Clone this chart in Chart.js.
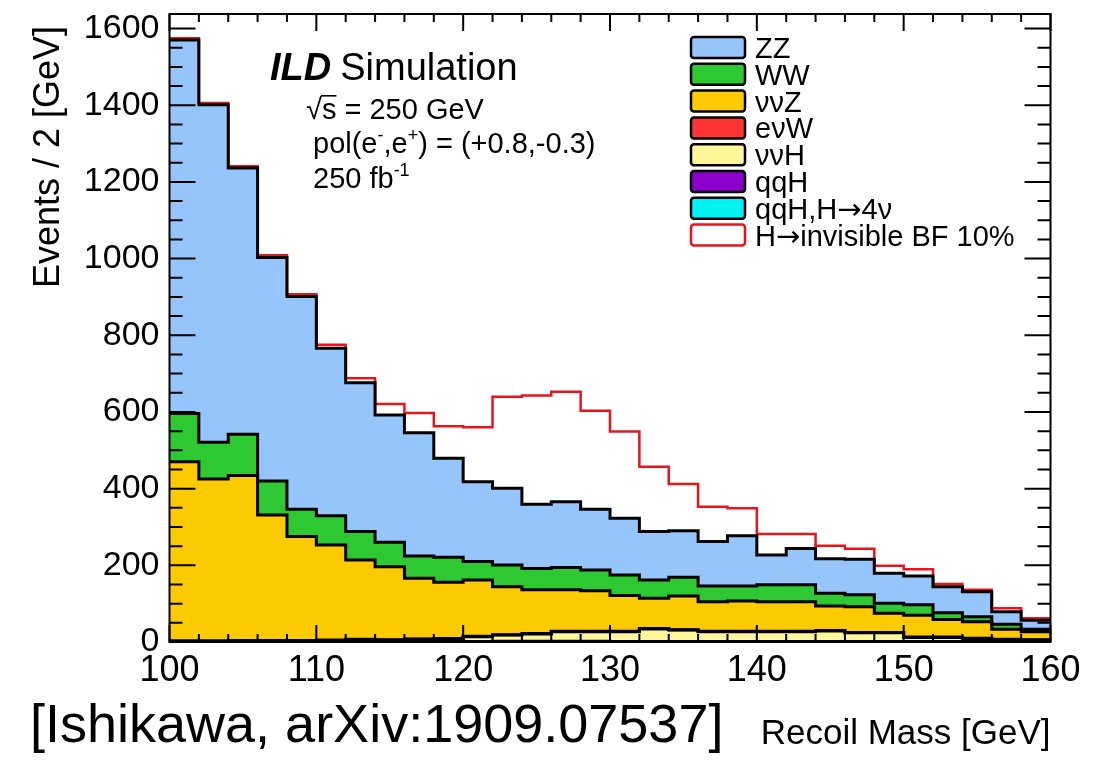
<!DOCTYPE html>
<html>
<head>
<meta charset="utf-8">
<script src="https://cdn.jsdelivr.net/npm/chart.js@4.4.1/dist/chart.umd.min.js"></script>
<style>
  html, body { margin: 0; padding: 0; background: #fff; }
  #wrap { position: relative; width: 1110px; height: 767px; overflow: hidden; }
  #c { position: absolute; left: 0; top: 0; }
  #cite { position: absolute; left: 30px; top: 692px; font: 54px "Liberation Sans", Arial, sans-serif; color: #000; white-space: nowrap; }
</style>
</head>
<body>
<div id="wrap">
  <canvas id="c" width="1110" height="767"></canvas>
  <div id="cite">[Ishikawa, arXiv:1909.07537]</div>
</div>
<script>
// Recoil mass histogram, 2 GeV bins from 100 to 160 GeV
const binEdges = [100,102,104,106,108,110,112,114,116,118,120,122,124,126,128,130,132,134,136,138,140,142,144,146,148,150,152,154,156,158,160];

// Events per bin for each background process
const zz     = [974,880,694,583,555,437,388,332,322,258,208,200,167,172,158,148,126,121,116,131,78,95,90,93,78,75,68,65,33,24];
const ww     = [126,96,108,89,71,76,74,64,58,65,48,57,56,58,54,54,48,49,41,39,44,44,33,31,26,27,17,13,13,6];
const nnZ    = [467,422,430,327,271,248,207,190,158,147,147,125,114,108,106,93,79,88,77,79,77,77,64,67,50,57,46,43,26,21];
const enuW   = [2,2,2,2,1,1,1,1,1,1,1,1,1,1,1,1,1,1,1,1,1,1,1,1,1,1,1,1,1,1];
const nnH    = [1,1,2,2,3,4,6,5,7,7,13,16,19,25,25,26,33,30,26,26,26,26,28,23,23,11,11,8,6,5];
const qqH    = [0,0,0,0,0,0,0,0,0,1,1,1,1,1,1,1,1,1,1,1,1,1,1,1,1,1,1,1,0,0];
const qqH4nu = [0,0,0,0,0,0,0,0,0,0,0,1,1,1,1,0,0,0,0,0,0,0,0,0,0,0,0,0,0,0];
// H -> invisible signal (BF 10%), stacked on top of the total background
const hInv   = [5,5,5,6,6,9,12,29,51,84,142,239,284,287,257,226,169,122,91,72,55,38,34,27,20,18,7,5,9,5];

const yTicks = [0,200,400,600,800,1000,1200,1400,1600];
const xTicks = [100,110,120,130,140,150,160];

const ARROW = '\u2192';
const NU = '\u03bd';

// stacking order, bottom to top
const layers = [
  { label: ['qqH,H', ARROW, '4' + NU], values: qqH4nu, color: '#00f2f2' },
  { label: ['qqH'],                    values: qqH,    color: '#8a00cc' },
  { label: [NU + NU + 'H'],            values: nnH,    color: '#fff799' },
  { label: ['e' + NU + 'W'],           values: enuW,   color: '#ff3333' },
  { label: [NU + NU + 'Z'],            values: nnZ,    color: '#fcca00' },
  { label: ['WW'],                     values: ww,     color: '#2ec832' },
  { label: ['ZZ'],                     values: zz,     color: '#96c5fb' }
];
const signalLabel = ['H', ARROW, 'invisible BF 10%'];

// step outline points at the left bin edges, last value repeated at the upper edge
function stepPoints(vals) {
  return binEdges.map((x, i) => ({ x: x, y: vals[Math.min(i, vals.length - 1)] }));
}

const running = new Array(zz.length).fill(0);
const datasets = layers.map((l, k) => {
  for (let i = 0; i < running.length; i++) running[i] += l.values[i];
  return {
    label: l.label.join(''),
    data: stepPoints(running.slice()),
    stepped: true,
    borderColor: '#000',
    borderWidth: 3,
    backgroundColor: l.color,
    fill: k === 0 ? 'origin' : '-1',
    pointRadius: 0,
    order: 0
  };
});
const withSignal = running.map((v, i) => v + hInv[i]);
datasets.push({
  label: signalLabel.join(''),
  data: stepPoints(withSignal),
  stepped: true,
  borderColor: '#e8141c',
  borderWidth: 2.5,
  backgroundColor: '#fff',
  fill: false,
  pointRadius: 0,
  order: 1
});

const FONT = '"Liberation Sans", Arial, Helvetica, sans-serif';
const ARROW_FONT = '"DejaVu Sans", sans-serif';

// frame and inward ROOT-style tick marks
const framePlugin = {
  id: 'frame',
  afterDatasetsDraw(chart) {
    const { ctx, chartArea: a, scales: { x, y } } = chart;
    ctx.save();
    ctx.strokeStyle = '#000';
    ctx.lineWidth = 2;
    ctx.beginPath();
    for (let v = 0; v <= 1600; v += 50) {
      const py = y.getPixelForValue(v);
      const len = v % 200 === 0 ? 26 : 13;
      ctx.moveTo(a.left, py); ctx.lineTo(a.left + len, py);
      ctx.moveTo(a.right, py); ctx.lineTo(a.right - len, py);
    }
    for (let v = 100; v <= 160; v += 2) {
      const px = x.getPixelForValue(v);
      const len = v % 10 === 0 ? 17 : 8;
      ctx.moveTo(px, a.bottom); ctx.lineTo(px, a.bottom - len);
      ctx.moveTo(px, a.top); ctx.lineTo(px, a.top + len);
    }
    ctx.stroke();
    ctx.strokeRect(a.left, a.top, a.right - a.left, a.bottom - a.top);
    ctx.restore();
  }
};

// text pieces drawn in sequence; superscripts raised, arrows in a wider glyph
function drawRuns(ctx, x, y, runs, size) {
  let cx = x;
  runs.forEach(r => {
    const isSup = typeof r === 'object' && r.sup === true;
    const t = typeof r === 'string' ? r : r.t;
    let yy = y;
    if (isSup) {
      ctx.font = Math.round(size * 0.62) + 'px ' + FONT;
      yy = y - size * 0.42;
    } else if (t === ARROW) {
      ctx.font = size + 'px ' + ARROW_FONT;
    } else {
      ctx.font = size + 'px ' + FONT;
    }
    ctx.fillText(t, cx, yy);
    cx += ctx.measureText(t).width;
  });
}

// experiment label, run conditions, axis title and the legend box
const labelsPlugin = {
  id: 'labels',
  afterDraw(chart) {
    const ctx = chart.ctx;
    ctx.save();
    ctx.fillStyle = '#000';
    ctx.textBaseline = 'alphabetic';
    ctx.textAlign = 'left';

    ctx.font = 'italic bold 38px ' + FONT;
    ctx.fillText('ILD', 270, 80);
    const w = ctx.measureText('ILD').width;
    ctx.font = '38px ' + FONT;
    ctx.fillText('Simulation', 270 + w + 9, 80);

    const s = 29;
    ctx.font = s + 'px ' + FONT;
    const rootW = ctx.measureText('\u221a').width;
    const sW = ctx.measureText('s').width;
    ctx.fillText('\u221as = 250 GeV', 306, 119);
    ctx.lineWidth = 1.6;
    ctx.beginPath();
    ctx.moveTo(306 + rootW - 1, 119 - s * 0.8);
    ctx.lineTo(306 + rootW + sW, 119 - s * 0.8);
    ctx.stroke();
    drawRuns(ctx, 313, 153, ['pol(e', { t: '-', sup: true }, ',e', { t: '+', sup: true }, ') = (+0.8,-0.3)'], s);
    drawRuns(ctx, 313, 188, ['250 fb', { t: '-1', sup: true }], s);

    // y axis title
    ctx.save();
    ctx.translate(59, 157);
    ctx.rotate(-Math.PI / 2);
    ctx.textAlign = 'center';
    ctx.font = '36px ' + FONT;
    ctx.fillText('Events / 2 [GeV]', 0, 0);
    ctx.restore();

    // legend, top to bottom
    const entries = layers.slice().reverse().map(l => ({ label: l.label, fill: l.color, stroke: '#000' }));
    entries.push({ label: signalLabel, fill: '#fff', stroke: '#e8141c' });
    entries.forEach((e, i) => {
      const top = 37 + i * 26.8;
      ctx.fillStyle = e.fill;
      ctx.strokeStyle = e.stroke;
      ctx.lineWidth = 2.5;
      ctx.beginPath();
      ctx.roundRect(691, top, 54, 21, 3);
      ctx.fill();
      ctx.stroke();
      ctx.fillStyle = '#000';
      drawRuns(ctx, 755, top + 21, e.label, 29);
    });
    ctx.restore();
  }
};

new Chart(document.getElementById('c'), {
  type: 'line',
  data: { datasets: datasets },
  plugins: [framePlugin, labelsPlugin],
  options: {
    responsive: false,
    animation: false,
    events: [],
    layout: { padding: { left: 0, right: 59.5, top: 14, bottom: 12 } },
    plugins: {
      legend: { display: false },
      tooltip: { enabled: false },
      filler: { drawTime: 'beforeDatasetsDraw', propagate: false }
    },
    scales: {
      x: {
        type: 'linear',
        min: 100, max: 160,
        grid: { display: false, drawTicks: false },
        border: { display: false },
        afterBuildTicks: s => { s.ticks = xTicks.map(v => ({ value: v })); },
        afterFit: s => { s.height = 113; s.paddingLeft = 0; s.paddingRight = 0; },
        ticks: { color: '#000', padding: 7, maxRotation: 0, font: { family: FONT, size: 36 }, callback: v => String(v) },
        title: { display: true, text: 'Recoil Mass [GeV]', align: 'end', color: '#000', padding: { top: 0, bottom: 0 }, font: { family: FONT, size: 35 } }
      },
      y: {
        min: 0, max: 1638,
        grid: { display: false, drawTicks: false },
        border: { display: false },
        afterBuildTicks: s => { s.ticks = yTicks.map(v => ({ value: v })); },
        afterFit: s => { s.width = 169.5; s.paddingTop = 0; s.paddingBottom = 0; },
        ticks: { color: '#000', padding: 10, font: { family: FONT, size: 34 }, callback: v => String(v) }
      }
    }
  }
});
</script>
</body>
</html>
